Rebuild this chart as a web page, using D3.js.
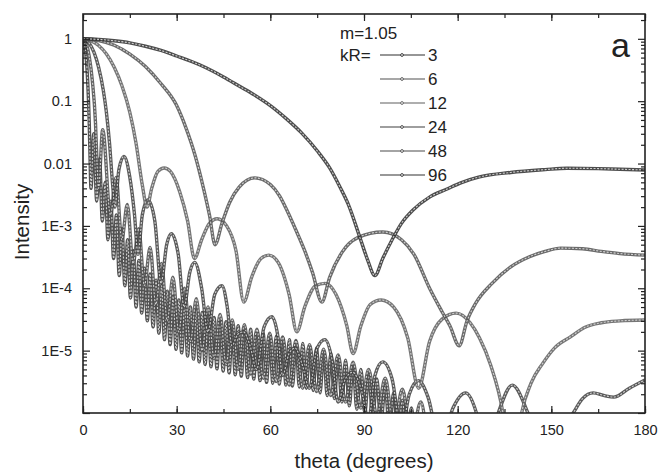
<!DOCTYPE html>
<meta charset="utf-8">
<script src="https://d3js.org/d3.v7.min.js"></script>
<style>
  body { margin: 0; background: #fff; }
  text { font-family: "Liberation Sans", Arial, sans-serif; fill: #222; }
</style>
<div id="chart"></div>
<script>
// Dati: [theta (gradi), intensita']
var kr3 = [[0,1],[5,0.98],[10,0.93],[15,0.86],[20,0.76],[25,0.65],[30,0.53],[37.5,0.38],[45,0.245],[50,0.175],[55,0.125],[60,0.085],[65,0.053],[70,0.031],[75,0.016],[79,0.0085],[82.3,0.0042],[85,0.0022],[88.7,6.5e-4],[91,3e-4],[93.5,1.6e-4],[96,3e-4],[99,6e-4],[102,1.1e-3],[105.7,1.8e-3],[111,2.9e-3],[116.6,3.9e-3],[121,4.9e-3],[127,6.1e-3],[137,7.2e-3],[148,8e-3],[155,8.4e-3],[165,8.3e-3],[172,8.1e-3],[180,7.9e-3]];

var kr6 = [[0,1],[5,0.94],[10,0.79],[15,0.57],[20,0.36],[25,0.19],[30,0.085],[33,0.037],[36,0.013],[38.5,4.2e-3],[40.5,1.5e-3],[42.3,5e-4],[44.5,1.1e-3],[47,2.4e-3],[50,4.2e-3],[55,5.9e-3],[60,4.6e-3],[63,3e-3],[65.5,1.7e-3],[68,9e-4],[71,4e-4],[73.5,1.8e-4],[76.5,6e-5],[79,1.5e-4],[83,3.8e-4],[88,6.5e-4],[96,8e-4],[102,6e-4],[106,3.5e-4],[111,1e-4],[115,4.2e-5],[117.5,2.5e-5],[120.5,1.2e-5],[123,3e-5],[126,6e-5],[131,1.2e-4],[137,2.2e-4],[143,3.2e-4],[148,3.9e-4],[153,4.4e-4],[160,4.3e-4],[166,3.9e-4],[172,3.6e-4],[180,3.4e-4]];

var kr12 = [[0,1],[3,0.91],[5,0.78],[7.5,0.57],[10,0.35],[12.5,0.175],[15,0.066],[17,0.021],[19,4.5e-3],[20.5,2e-3],[22,4e-3],[24,7.5e-3],[26,8.5e-3],[28,7.5e-3],[31,3.5e-3],[33.5,1.2e-3],[35.7,3e-4],[38,6e-4],[40.5,1.1e-3],[43,1.3e-3],[46,1e-3],[49,4e-4],[51.5,6e-5],[54,1.5e-4],[57,3e-4],[59.5,3.4e-4],[62.5,2.6e-4],[66,8e-5],[68.5,2e-5],[71,5e-5],[74.5,1.1e-4],[77.5,1.2e-4],[81,8e-5],[84.5,2.5e-5],[86.5,9e-6],[89,2.5e-5],[92,5.5e-5],[95.5,6.5e-5],[99.5,5e-5],[104,1.6e-5],[107.5,2.5e-6],[111,1.4e-5],[115,3.2e-5],[119.5,4e-5],[124,2.8e-5],[127,1.6e-5],[130.5,6e-6],[134.5,1e-6],[136.5,2e-7],[138.5,2e-7],[140.5,1e-6],[143.5,3e-6],[147.3,6.3e-6],[151,1.1e-5],[156,1.65e-5],[161,2.4e-5],[166,2.8e-5],[172,3e-5],[180,3.1e-5]];

var kr24 = [[0,1],[2,0.85],[3.5,0.61],[5,0.35],[6.5,0.15],[7.5,0.066],[8.5,0.021],[9.5,4.5e-3],[10.2,2e-3],[11.5,8e-3],[13.1,0.013],[15,6e-3],[16.5,1.5e-3],[17.6,3.5e-4],[19,1.5e-3],[20.8,2.6e-3],[23,1.2e-3],[25,1.2e-4],[26.8,5e-4],[28.3,7.5e-4],[30.5,3.5e-4],[32.4,5e-5],[34.2,1.8e-4],[35.8,2.6e-4],[38,1e-4],[40,2e-5],[42.2,8e-5],[44.5,1.1e-4],[46.2,5e-5],[47.7,1.2e-5],[49.5,1.8e-5],[51.4,2e-5],[53.5,1.2e-5],[55.6,5e-6],[58,2.4e-5],[60.5,3.5e-5],[62.5,1.6e-5],[63.9,4e-6],[66,9e-6],[67.9,1.1e-5],[70.2,6e-6],[72.5,2.5e-6],[75,1.1e-5],[77.5,1.5e-5],[79.8,7e-6],[81.7,1.5e-6],[84,3.5e-6],[86.4,4.5e-6],[89,2.5e-6],[91.5,8e-7],[93.5,4e-6],[96,6.6e-6],[99,3.5e-6],[102,5e-7],[104.5,2e-6],[107.5,3.3e-6],[110.5,1.8e-6],[114.5,3e-7],[118.5,1.2e-6],[122.5,2.1e-6],[126,1e-6],[129,2e-7],[133,1e-6],[137.5,2.8e-6],[142.5,1e-6],[148,1.5e-7],[157,1e-6],[160,1.7e-6],[163.4,2.1e-6],[167,1.9e-6],[170,1.8e-6],[175,2.5e-6],[180,3.4e-6]];

var kr48 = [[0,1],[1,0.85],[2,0.52],[3,0.21],[4,0.045],[4.5,0.01],[5,0.004],[6.3,0.035],[8.79,0.0015],[10.6,0.006],[12.42,6e-4],[14.2,2.2e-3],[16.04,2.5e-4],[17.85,9e-4],[19.67,1.1e-4],[21.5,4.5e-4],[23.32,5.5e-5],[25.15,2.5e-4],[26.98,3e-5],[28.8,1.5e-4],[30.68,2e-5],[32.5,1e-4],[34.41,1.4e-5],[36.3,6.8e-5],[38.16,1e-5],[40.05,5e-5],[41.97,7.5e-6],[43.9,3.8e-5],[45.82,6e-6],[47.8,3.1e-5],[49.72,5e-6],[51.7,2.6e-5],[53.69,4.2e-6],[55.7,2.2e-5],[57.72,3.6e-6],[59.8,1.9e-5],[61.84,3.2e-6],[63.95,1.65e-5],[66.05,2.8e-6],[68.2,1.45e-5],[70.36,2.5e-6],[72.55,1.25e-5],[74.79,2.2e-6],[77.05,1.05e-5],[79.35,1.9e-6],[81.7,8.5e-6],[84.07,1.5e-6],[86.5,6.5e-6],[88.98,1.2e-6],[91.5,5e-6],[94.1,9e-7],[96.8,3.6e-6],[99.47,6e-7],[102.3,2.4e-6],[105.1,4e-7],[108.2,1.5e-6],[111.3,2.5e-7],[114.6,9e-7],[117.9,1.5e-7],[180,1.5e-7]];

var kr96 = [[0,1],[0.5,0.85],[1,0.52],[1.5,0.21],[2,0.045],[2.3,0.01],[2.55,0.004],[3.45,0.03],[4.39,0.0025],[5.3,0.012],[6.2,0.0012],[7.1,0.005],[8.0,6e-4],[8.9,2.5e-3],[9.8,3e-4],[10.7,1.5e-3],[11.6,1.6e-4],[12.5,9e-4],[13.4,1.1e-4],[14.3,6e-4],[15.2,7e-5],[16.1,4e-4],[17.0,5e-5],[17.9,2.8e-4],[18.8,4e-5],[19.7,2.1e-4],[20.6,3e-5],[21.5,1.7e-4],[22.45,2.4e-5],[23.4,1.35e-4],[24.3,1.9e-5],[25.2,1.1e-4],[26.1,1.5e-5],[27.0,9e-5],[27.9,1.25e-5],[28.9,7.5e-5],[29.8,1.05e-5],[30.7,6.5e-5],[31.6,9.2e-6],[32.6,5.7e-5],[33.5,8.2e-6],[34.4,5e-5],[35.4,7.3e-6],[36.3,4.5e-5],[37.2,6.6e-6],[38.2,4.1e-5],[39.1,6e-6],[40.1,3.7e-5],[41.0,5.5e-6],[42.0,3.4e-5],[42.9,5.1e-6],[43.9,3.1e-5],[44.9,4.7e-6],[45.8,2.9e-5],[46.8,4.4e-6],[47.8,2.7e-5],[48.75,4.1e-6],[49.7,2.5e-5],[50.7,3.9e-6],[51.7,2.35e-5],[52.7,3.7e-6],[53.7,2.2e-5],[54.7,3.5e-6],[55.7,2.05e-5],[56.7,3.3e-6],[57.7,1.9e-5],[58.8,3.1e-6],[59.8,1.8e-5],[60.8,3e-6],[61.9,1.7e-5],[62.9,2.9e-6],[64.0,1.6e-5],[65.0,2.8e-6],[66.1,1.5e-5],[67.1,2.7e-6],[68.2,1.4e-5],[69.3,2.6e-6],[70.4,1.3e-5],[71.5,2.5e-6],[72.6,1.2e-5],[73.7,2.3e-6],[74.8,1.1e-5],[75.9,2.1e-6],[77.1,1e-5],[78.2,1.9e-6],[79.4,9e-6],[80.5,1.7e-6],[81.7,8e-6],[82.9,1.5e-6],[84.1,7e-6],[85.3,1.3e-6],[86.5,6e-6],[87.7,1.15e-6],[89.0,5e-6],[90.25,1e-6],[91.5,4.2e-6],[92.8,8.5e-7],[94.1,3.5e-6],[95.4,7e-7],[96.8,2.8e-6],[98.1,5.5e-7],[99.5,2.1e-6],[100.9,4.5e-7],[102.3,1.6e-6],[103.7,3.5e-7],[105.2,1.2e-6],[106.7,2.5e-7],[108.2,9e-7],[110,2e-7],[180,2e-7]];

var krLabels = ["3", "6", "12", "24", "48", "96"];
var xTicks = [0, 30, 60, 90, 120, 150, 180];
var yTicks = [1, 0.1, 0.01, 1e-3, 1e-4, 1e-5];
var yTickLabels = ["1", "0.1", "0.01", "1E-3", "1E-4", "1E-5"];

var serie = [kr3, kr6, kr12, kr24, kr48, kr96];
// tonalita' di grigio per ogni curva
var scuro = ["#2e2e2e", "#505050", "#5e5e5e", "#3e3e3e", "#4a4a4a", "#333"];

var W = 659, H = 475;
var pl = 83, pr = 645, pt = 14, pb = 413;

var svg = d3.select("#chart").append("svg")
    .attr("width", W)
    .attr("height", H);

svg.append("rect").attr("width", W).attr("height", H).attr("fill", "#fff");

var x = d3.scaleLinear().domain([0, 180]).range([pl, pr]);
var y = d3.scaleLog().domain([1e-6, 2.5]).range([pb, pt]);

svg.append("clipPath").attr("id", "clip")
    .append("rect")
    .attr("x", pl).attr("y", pt)
    .attr("width", pr - pl).attr("height", pb - pt);

var line = d3.line()
    .x(function(d) { return x(d[0]); })
    .y(function(d) { return y(d[1]); })
    .curve(d3.curveMonotoneX);

var g = svg.append("g").attr("clip-path", "url(#clip)");

// disegno dalla curva piu' fitta a quella piu' liscia
for (var i = serie.length - 1; i >= 0; i--) {
    g.append("path")
        .attr("d", line(serie[i]))
        .attr("fill", "none")
        .attr("stroke", scuro[i])
        .attr("stroke-opacity", 0.85)
        .attr("stroke-width", 3.4)
        .attr("stroke-linejoin", "round");
    g.append("path")
        .attr("d", line(serie[i]))
        .attr("fill", "none")
        .attr("stroke", "#d0d0d0")
        .attr("stroke-width", 1.1)
        .attr("stroke-dasharray", "2,1.5");
}

// assi con tacche verso l'interno
function pulisci(a) { a.select(".domain").remove(); a.attr("font-size", null).attr("font-family", null); }

var xMinor = d3.range(0, 181, 15);
svg.append("g").attr("transform", "translate(0," + pb + ")")
    .call(d3.axisBottom(x).tickValues(xMinor).tickSize(-4).tickFormat(""))
    .call(pulisci);
svg.append("g").attr("transform", "translate(0," + pb + ")")
    .call(d3.axisBottom(x).tickValues(xTicks).tickSize(-7).tickPadding(12))
    .call(pulisci);
svg.append("g").attr("transform", "translate(0," + pt + ")")
    .call(d3.axisTop(x).tickValues(xMinor).tickSize(-4).tickFormat(""))
    .call(pulisci);
svg.append("g").attr("transform", "translate(0," + pt + ")")
    .call(d3.axisTop(x).tickValues(xTicks).tickSize(-7).tickFormat(""))
    .call(pulisci);

var yMinor = [];
for (var e = -6; e <= 0; e++) {
    for (var m = 2; m <= 9; m++) {
        var v = m * Math.pow(10, e);
        if (v <= 2.5) yMinor.push(v);
    }
}
var yMajor = [1e-6].concat(yTicks);

svg.append("g").attr("transform", "translate(" + pl + ",0)")
    .call(d3.axisLeft(y).tickValues(yMinor).tickSize(-4).tickFormat(""))
    .call(pulisci);
svg.append("g").attr("transform", "translate(" + pl + ",0)")
    .call(d3.axisLeft(y).tickValues(yMajor).tickSize(-7).tickFormat(""))
    .call(pulisci);
svg.append("g").attr("transform", "translate(" + pr + ",0)")
    .call(d3.axisRight(y).tickValues(yMinor).tickSize(-4).tickFormat(""))
    .call(pulisci);
svg.append("g").attr("transform", "translate(" + pr + ",0)")
    .call(d3.axisRight(y).tickValues(yMajor).tickSize(-7).tickFormat(""))
    .call(pulisci);

svg.selectAll(".tick line").attr("stroke", "#222").attr("stroke-width", 1.2);
svg.selectAll(".tick text").style("font-size", "14.5px").attr("fill", "#222");

// etichette asse y
svg.selectAll(".ylab").data(yTicks).enter().append("text")
    .attr("class", "ylab")
    .attr("x", pl - 11)
    .attr("y", function(d) { return y(d); })
    .attr("dy", "0.35em")
    .attr("text-anchor", "end")
    .style("font-size", "14.5px")
    .text(function(d, i) { return yTickLabels[i]; });

// cornice
svg.append("rect")
    .attr("x", pl).attr("y", pt)
    .attr("width", pr - pl).attr("height", pb - pt)
    .attr("fill", "none")
    .attr("stroke", "#222")
    .attr("stroke-width", 1.6);

// titoli degli assi
svg.append("text")
    .attr("x", 364)
    .attr("y", 468)
    .attr("text-anchor", "middle")
    .style("font-size", "20.5px")
    .text("theta (degrees)");

svg.append("text")
    .attr("transform", "translate(29,222) rotate(-90)")
    .attr("text-anchor", "middle")
    .style("font-size", "20.5px")
    .text("Intensity");

// legenda
svg.append("text").attr("x", 340).attr("y", 39).style("font-size", "17px").text("m=1.05");
svg.append("text").attr("x", 340).attr("y", 61).style("font-size", "17px").text("kR=");

var leg = svg.selectAll(".leg").data(krLabels).enter().append("g")
    .attr("class", "leg")
    .attr("transform", function(d, i) { return "translate(0," + (55 + i * 24) + ")"; });
leg.append("line")
    .attr("x1", 380).attr("x2", 425)
    .attr("stroke", function(d, i) { return scuro[i]; })
    .attr("stroke-width", 1.2);
leg.append("circle")
    .attr("cx", 402).attr("r", 1.4)
    .attr("fill", "#fff")
    .attr("stroke", function(d, i) { return scuro[i]; })
    .attr("stroke-width", 0.9);
leg.append("text")
    .attr("x", 428)
    .attr("dy", "0.35em")
    .style("font-size", "17px")
    .text(function(d) { return d; });

svg.append("text")
    .attr("x", 611).attr("y", 57)
    .style("font-size", "34px")
    .text("a");
</script>
